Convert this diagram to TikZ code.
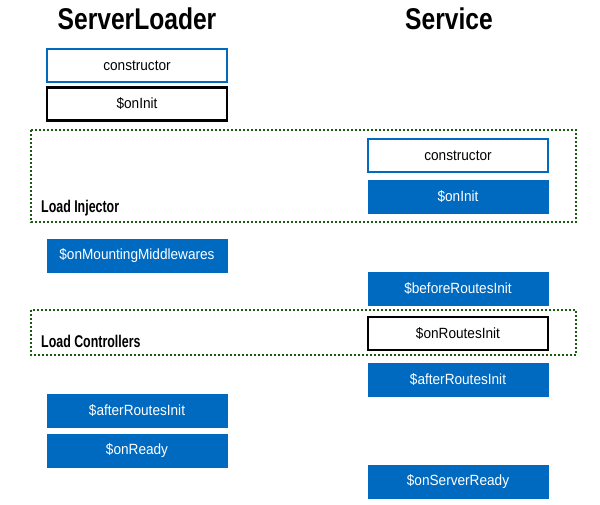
\documentclass[tikz,border=0pt]{standalone}
\usepackage{fontspec}
\setmainfont{Liberation Sans}
\definecolor{hookblue}{RGB}{0,106,193}
\definecolor{groupgreen}{RGB}{22,92,12}
\newcommand{\condensed}[2]{\scalebox{#1}[1]{#2}}
\tikzset{
	hook/.style={minimum width=180pt,minimum height=33pt,inner sep=0pt,font=\fontsize{14.8}{17}\selectfont},
	bluehook/.style={hook,fill=hookblue,draw=hookblue,text=white},
	newhook/.style={hook,draw=hookblue,line width=2pt},
	ownhook/.style={hook,draw=black,line width=2.5pt},
	group/.style={draw=groupgreen,line width=2pt,dotted},
	grouplabel/.style={anchor=west,inner sep=0pt,font=\fontsize{17}{20}\bfseries\selectfont},
	title/.style={inner sep=0pt,font=\fontsize{30}{35}\bfseries\selectfont},
}
\begin{document}
\begin{tikzpicture}[x=1pt,y=-1pt]
	\useasboundingbox (0,0) rectangle (600,504);
	% groups
	\draw[group] (31,130) rectangle (576,222);
	\draw[group] (31,310) rectangle (576,355);
	\node[grouplabel] (injector) at (41,208) {\condensed{0.73}{Load Injector}};
	\node[grouplabel] (controllers) at (41,341) {\condensed{0.73}{Load Controllers}};
	% titles
	\node[title] (loader) at (137,18.5) {\condensed{0.82}{ServerLoader}};
	\node[title] (service) at (449,18.5) {\condensed{0.82}{Service}};
	% ServerLoader hooks
	\node[newhook] (lconstructor) at (137,65.5) {\condensed{0.92}{constructor}};
	\node[ownhook] (loninit) at (137,104) {\condensed{0.92}{\$onInit}};
	\node[bluehook] (lmounting) at (137,255.5) {\condensed{0.92}{\$onMountingMiddlewares}};
	\node[bluehook] (lafter) at (137,410.5) {\condensed{0.92}{\$afterRoutesInit}};
	\node[bluehook] (lready) at (137,450.5) {\condensed{0.92}{\$onReady}};
	% Service hooks
	\node[newhook] (sconstructor) at (458,155.5) {\condensed{0.92}{constructor}};
	\node[bluehook] (soninit) at (458,197) {\condensed{0.92}{\$onInit}};
	\node[bluehook] (sbefore) at (458,288.5) {\condensed{0.92}{\$beforeRoutesInit}};
	\node[ownhook] (sroutes) at (458,333.5) {\condensed{0.92}{\$onRoutesInit}};
	\node[bluehook] (safter) at (458,379.5) {\condensed{0.92}{\$afterRoutesInit}};
	\node[bluehook] (sready) at (458,481.5) {\condensed{0.92}{\$onServerReady}};
\end{tikzpicture}
\end{document}
